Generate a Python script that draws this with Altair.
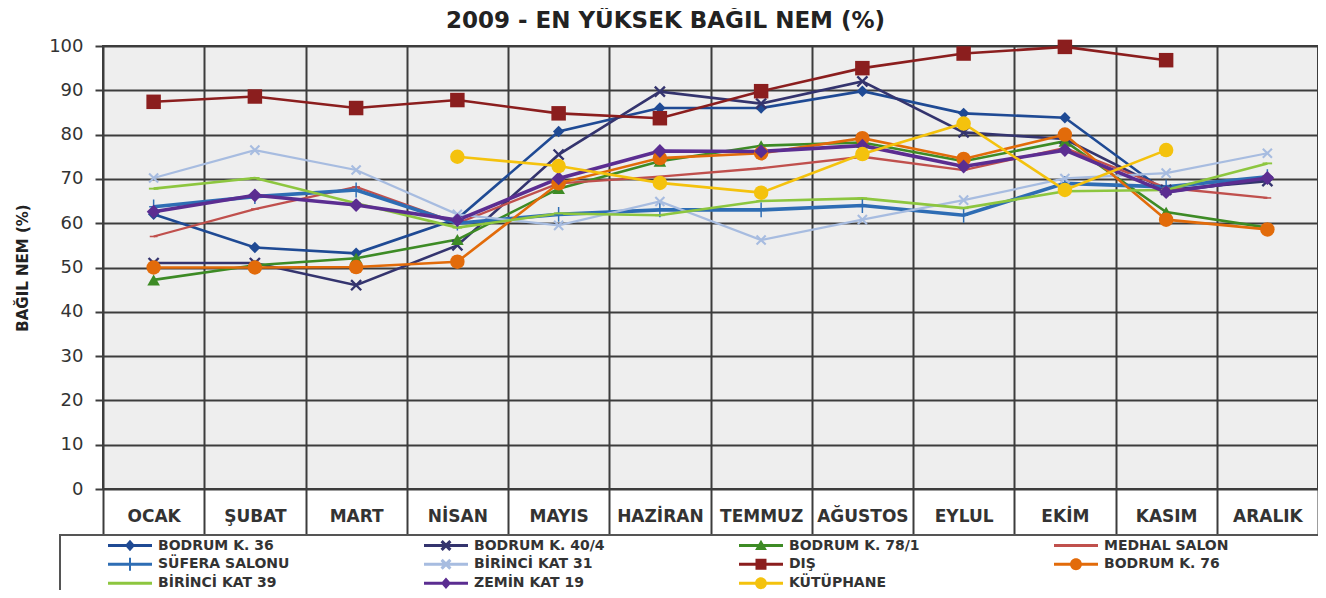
import altair as alt
import pandas as pd

# ---------------- data ----------------
months = ["OCAK", "ŞUBAT", "MART", "NİSAN", "MAYIS", "HAZİRAN",
          "TEMMUZ", "AĞUSTOS", "EYLUL", "EKİM", "KASIM", "ARALIK"]

series_names = ["BODRUM K. 36", "BODRUM K. 40/4", "BODRUM K. 78/1", "MEDHAL SALON",
                "SÜFERA SALONU", "BİRİNCİ KAT 31", "DIŞ", "BODRUM K. 76",
                "BİRİNCİ KAT 39", "ZEMİN KAT 19", "KÜTÜPHANE"]

bodrum_36      = [62.0, 54.5, 53.2, 61.0, 80.7, 86.0, 86.0, 89.8, 84.8, 83.8, 67.0, 70.0]
bodrum_40_4    = [51.0, 51.0, 46.0, 55.0, 75.5, 89.7, 87.0, 92.0, 80.5, 79.0, 67.5, 69.5]
bodrum_78_1    = [47.2, 50.5, 52.1, 56.3, 67.8, 74.0, 77.5, 78.2, 74.0, 78.5, 62.5, 59.0]
medhal_salon   = [57.0, 63.2, 68.2, 60.0, 69.0, 70.5, 72.4, 75.0, 72.0, 77.0, 68.0, 65.7]
sufera_salonu  = [63.7, 66.0, 67.5, 60.0, 62.0, 63.0, 63.0, 64.0, 61.8, 69.0, 68.2, 70.5]
birinci_kat_31 = [70.2, 76.5, 72.0, 62.0, 59.5, 64.9, 56.2, 60.8, 65.2, 70.1, 71.3, 75.8]
dis            = [87.4, 88.6, 86.0, 87.8, 84.8, 83.7, 89.8, 95.0, 98.3, 99.8, 96.8, None]
bodrum_76      = [50.0, 50.0, 50.1, 51.3, 69.0, 74.7, 75.8, 79.2, 74.5, 80.0, 60.8, 58.6]
birinci_kat_39 = [67.8, 70.2, 64.5, 59.0, 62.2, 61.8, 65.0, 65.6, 63.4, 67.2, 67.5, 73.5]
zemin_kat_19   = [62.6, 66.3, 64.1, 60.7, 70.1, 76.3, 76.2, 77.5, 72.8, 76.5, 67.0, 70.2]
kutuphane      = [None, None, None, 75.0, 72.9, 69.1, 66.9, 75.6, 82.5, 67.5, 76.5, None]

all_values = [bodrum_36, bodrum_40_4, bodrum_78_1, medhal_salon, sufera_salonu,
              birinci_kat_31, dis, bodrum_76, birinci_kat_39, zemin_kat_19, kutuphane]

rows = []
for name, vals in zip(series_names, all_values):
    for i, (m, v) in enumerate(zip(months, vals)):
        if v is not None:
            rows.append({"month": m, "mi": i, "series": name, "value": v})
df = pd.DataFrame(rows)

# ---------------- styles ----------------
colors = ["#1F4A94", "#34346E", "#3D8B25", "#C0504D", "#2E6DB4", "#A7BCE0",
          "#8B1E1E", "#E26B0A", "#8DC63F", "#5B2D91", "#F4C20D"]
line_widths = [2.6, 2.6, 2.6, 2.3, 3.6, 2.2, 2.6, 2.6, 2.6, 3.6, 2.6]


def poly(pts, dx=0.0):
    return "M" + "L".join(f"{x + dx:.3f},{y:.3f}" for x, y in pts) + "Z"


def x_shape(a, d, dx=0.0):
    r1 = [(-a + d, -a - d), (a + d, a - d), (a - d, a + d), (-a - d, -a + d)]
    r2 = [(-a - d, a - d), (a - d, -a - d), (a + d, -a + d), (-a + d, a + d)]
    return poly(r1, dx) + poly(r2, dx)


X_MARK = x_shape(0.8, 0.13)
PLUS_MARK = poly([(-0.1, -1), (0.1, -1), (0.1, -0.1), (0.6, -0.1), (0.6, 0.1), (0.1, 0.1),
                  (0.1, 1), (-0.1, 1), (-0.1, 0.1), (-0.6, 0.1), (-0.6, -0.1), (-0.1, -0.1)])
DASH_MARK = poly([(-1, -0.2), (1, -0.2), (1, 0.2), (-1, 0.2)])

marker_shapes = ["diamond", X_MARK, "triangle-up", DASH_MARK, PLUS_MARK, X_MARK,
                 "square", "circle", DASH_MARK, "diamond", "circle"]
marker_sizes = [130, 160, 160, 60, 220, 130, 210, 210, 90, 190, 210]

# legend symbols: line segment + marker (unit = 22 px), shifted right inside the entry
CX = 2.136
BAR = poly([(-1, -0.07), (1, -0.07), (1, 0.07), (-1, 0.07)], CX)
L_DIAMOND = poly([(0, -0.26), (0.23, 0), (0, 0.26), (-0.23, 0)], CX)
L_X = x_shape(0.2, 0.05, CX)
L_TRI = poly([(0, -0.26), (0.27, 0.2), (-0.27, 0.2)], CX)
L_SQUARE = poly([(-0.25, -0.25), (0.25, -0.25), (0.25, 0.25), (-0.25, 0.25)], CX)
L_CIRCLE = (f"M{CX - 0.27:.3f},0A0.27,0.27 0 1,1 {CX + 0.27:.3f},0"
            f"A0.27,0.27 0 1,1 {CX - 0.27:.3f},0Z")
L_PLUS = poly([(-0.045, -0.3), (0.045, -0.3), (0.045, 0.3), (-0.045, 0.3)], CX)
ANCHOR_L = "M-1,0L-1,0"

legend_shapes = [
    ANCHOR_L + BAR + L_DIAMOND,
    ANCHOR_L + BAR + L_X,
    ANCHOR_L + BAR + L_TRI,
    ANCHOR_L + BAR,
    ANCHOR_L + BAR + L_PLUS,
    ANCHOR_L + BAR + L_X,
    ANCHOR_L + BAR + L_SQUARE,
    ANCHOR_L + BAR + L_CIRCLE,
    ANCHOR_L + BAR,
    ANCHOR_L + BAR + L_DIAMOND,
    ANCHOR_L + BAR + L_CIRCLE,
]

GRID = "#3c3c3c"
TXT = "#333333"

x_enc = alt.X(
    "month:N", sort=months, bandPosition=0.5,
    scale=alt.Scale(type="band", domain=months, paddingInner=0, paddingOuter=0),
    axis=alt.Axis(title=None, domain=False, grid=True, gridColor=GRID, gridWidth=2,
                  tickBand="extent", ticks=True, tickSize=46, tickColor=GRID, tickWidth=2,
                  labelAngle=0, labelFont="DejaVu Sans", labelFontSize=17,
                  labelFontWeight="bold", labelColor=TXT, labelPadding=-27),
)
y_enc = alt.Y(
    "value:Q",
    scale=alt.Scale(domain=[0, 100], nice=False),
    axis=alt.Axis(title="BAĞIL NEM (%)", values=list(range(0, 101, 10)), domain=False,
                  grid=True, gridColor=GRID, gridWidth=2, tickSize=8, tickColor=GRID,
                  tickWidth=2, labelFont="DejaVu Sans", labelFontSize=18, labelColor=TXT,
                  labelPadding=12, titleFont="DejaVu Sans", titleFontSize=15,
                  titleFontWeight="bold", titleColor="#222222", titlePadding=18),
)

base = alt.Chart(df).encode(x=x_enc, y=y_enc)

color_scale = alt.Scale(domain=series_names, range=colors)

lines = base.mark_line(opacity=1).encode(
    color=alt.Color("series:N", scale=color_scale, legend=None),
    strokeWidth=alt.StrokeWidth("series:N", scale=alt.Scale(type="ordinal", domain=series_names,
                                                            range=line_widths), legend=None),
    order=alt.Order("mi:Q"),
)

points = base.mark_point(filled=True, opacity=1, strokeWidth=0).encode(
    color=alt.Color("series:N", scale=color_scale, legend=None),
    shape=alt.Shape("series:N", scale=alt.Scale(domain=series_names, range=marker_shapes),
                    legend=None),
    size=alt.Size("series:N", scale=alt.Scale(type="ordinal", domain=series_names,
                                              range=marker_sizes), legend=None),
)

# an invisible (no-break space) title on the right widens the legend frame past the page edge
leg = alt.Legend(
    title="\u00a0", titleOrient="right", titlePadding=120, titleFontSize=14,
    orient="none", legendX=-43, legendY=489, direction="horizontal",
    columns=4, gridAlign="each", columnPadding=87, rowPadding=0, clipHeight=18.5,
    padding=1, symbolSize=1936, symbolStrokeWidth=0, symbolOpacity=1,
    labelOffset=53, labelFont="DejaVu Sans", labelFontSize=14, labelFontWeight="bold",
    labelColor=TXT, labelLimit=400,
    strokeColor="#555555", fillColor="white",
)

legend_layer = base.mark_point(filled=True, opacity=1, size=0).encode(
    color=alt.Color("series:N", scale=color_scale, legend=leg),
    shape=alt.Shape("series:N", scale=alt.Scale(domain=series_names, range=legend_shapes),
                    legend=leg),
)

chart = (
    alt.layer(lines, points, legend_layer)
    .resolve_scale(color="independent", shape="independent")
    .properties(
        width=1215, height=443,
        padding={"left": 95, "top": 38, "right": 0, "bottom": 101},
        autosize=alt.AutoSizeParams(type="none"),
        title=alt.Title("2009 - EN YÜKSEK BAĞIL NEM (%)", font="DejaVu Sans", fontSize=23,
                        fontWeight="bold", color="#222222", anchor="middle", offset=4,
                        dx=-45),
    )
    .configure(background="white")
    .configure_view(fill="#EEEEEE", stroke=GRID, strokeWidth=2)
    .configure_legend(strokeWidth=2)
)

chart.save("out.html", embed_options={"renderer": "svg", "actions": False})
